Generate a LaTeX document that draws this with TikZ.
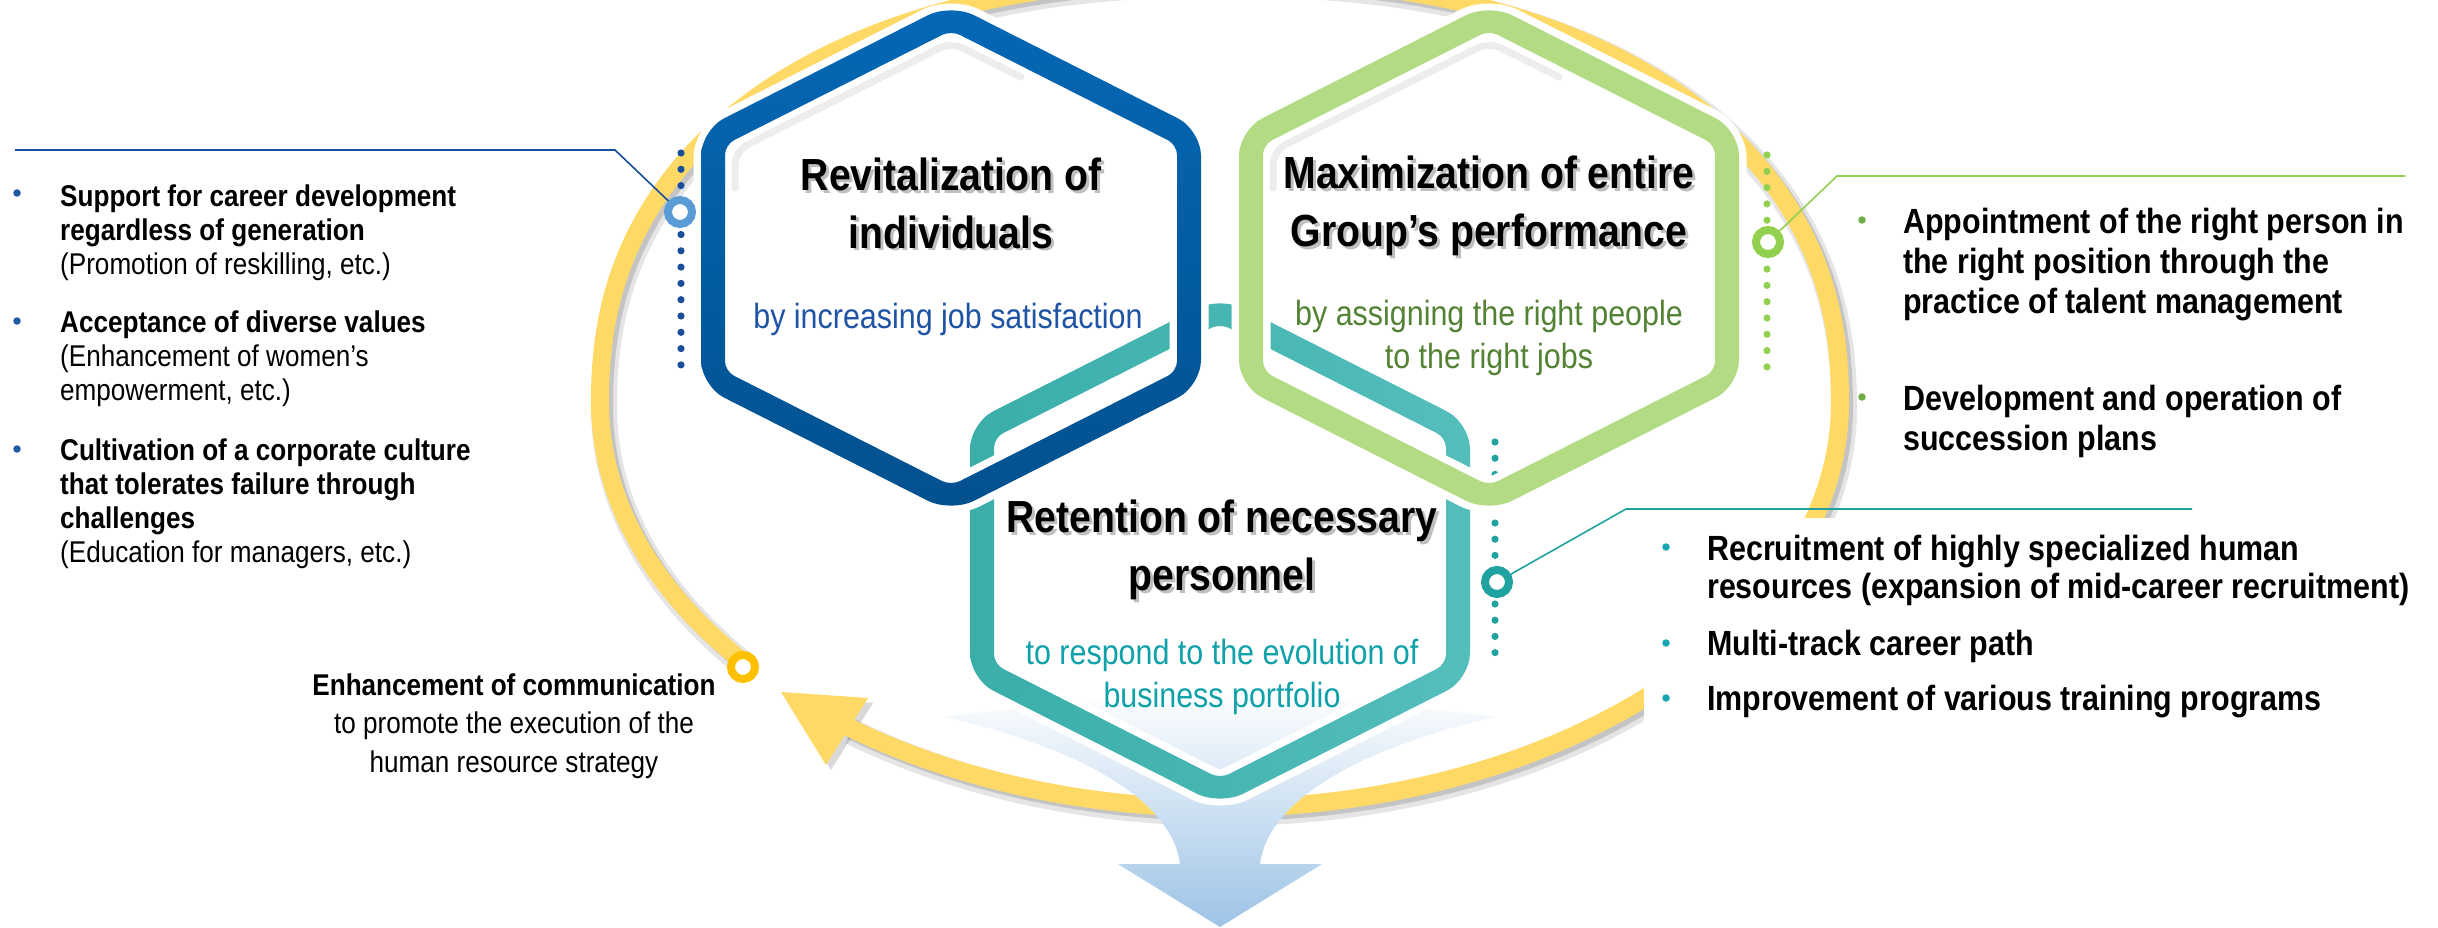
\documentclass[tikz,border=0pt]{standalone}
\usepackage{fontspec}
\setmainfont{Liberation Sans}[FakeStretch=0.87]
\definecolor{blueTop}{RGB}{4,104,182}
\definecolor{blueBot}{RGB}{3,80,142}
\definecolor{blueDot}{RGB}{24,78,154}
\definecolor{blueRing}{RGB}{91,155,213}
\definecolor{blueText}{RGB}{31,84,164}
\definecolor{blueBullet}{RGB}{31,90,166}
\definecolor{greenHex}{RGB}{179,219,131}
\definecolor{greenText}{RGB}{84,130,53}
\definecolor{greenDot}{RGB}{146,208,80}
\definecolor{greenBullet}{RGB}{112,173,71}
\definecolor{tealL}{RGB}{58,174,169}
\definecolor{tealR}{RGB}{84,190,187}
\definecolor{tealDot}{RGB}{32,163,160}
\definecolor{tealText}{RGB}{14,161,170}
\definecolor{tealBullet}{RGB}{23,165,180}
\definecolor{ringYellow}{RGB}{255,217,102}
\definecolor{ringOrange}{RGB}{255,192,0}
\definecolor{arrowBlue}{RGB}{157,195,230}
% hexagon outline offset by #3 from the centre line, centre (#1,#2), corner radius #4
\newcommand\HexPoly[4]{[rounded corners=#4pt] ({#1},{#2-241-1.12*(#3)}) -- ({#1+238+(#3)},{#2-120.6-0.614*(#3)}) -- ({#1+238+(#3)},{#2+120.6+0.614*(#3)}) -- ({#1},{#2+241+1.12*(#3)}) -- ({#1-238-(#3)},{#2+120.6+0.614*(#3)}) -- ({#1-238-(#3)},{#2-120.6-0.614*(#3)}) -- cycle}
% soft inner shade along the upper left inside edge of a hexagon centred at (#1,#2)
\newcommand\HexShine[2]{[rounded corners=14pt] ({#1-216},{#2-70}) -- ({#1-216},{#2-107}) -- ({#1},{#2-216}) -- ({#1+70},{#2-181})}
% the big cycle: ellipse below, flatter super-ellipse above
\newcommand\CycleRing{plot[domain=140:180, samples=30, variable=\t] ({1220+620*cos(\t)},{403+405*sin(\t)})
  -- plot[domain=180:360, samples=240, variable=\t]
  ({1220+620*cos(\t)*pow(abs(cos(\t))+0.00001,-0.111)},{403+424*sin(\t)*pow(abs(sin(\t))+0.00001,-0.111)})
  -- plot[domain=360:487, samples=120, variable=\t] ({1220+620*cos(\t)},{403+405*sin(\t)})}
\begin{document}
\begin{tikzpicture}[x=1pt,y=-1pt,
  ringnode/.style={circle, inner sep=0, minimum size=24pt, line width=8pt, fill=white},
  bul/.style={circle, inner sep=0, minimum size=7.5pt},
  callout/.style={line width=1.6pt},
  hextitle/.style={align=center, inner sep=0, font=\bfseries\fontsize{45}{58}\selectfont},
  titleshade/.style={hextitle, text=black!45, text opacity=.55},
  hexsub/.style={align=center, inner sep=0, font=\fontsize{35}{43}\selectfont},
  smalltext/.style={align=left, inner sep=0, font=\fontsize{30}{34}\selectfont},
  bigtext/.style={align=left, inner sep=0, font=\bfseries\fontsize{35}{40}\selectfont},
  shine/.style={black, opacity=.07, line width=7pt, line cap=round}]
\useasboundingbox (0,0) rectangle (2438,928);
\fill[white] (0,0) rectangle (2438,928);
\clip (0,0) rectangle (2438,928);

% ---- yellow cycle with its arrow head
\draw[black, opacity=.10, line width=26pt, xshift=4pt, yshift=-5pt] \CycleRing;
\draw[black, opacity=.14, line width=18pt, xshift=4pt, yshift=-4pt] \CycleRing;
\fill[black, opacity=.15, xshift=5pt, yshift=-5pt] (781,692) -- (868,698) -- (826,765) -- cycle;
\draw[ringYellow, line width=18pt] \CycleRing;
\coordinate (tipYellow) at (781,692);
\coordinate (barbA) at (868,698);
\coordinate (barbB) at (826,765);
\fill[ringYellow] (tipYellow) -- (barbA) -- (barbB) -- cycle;
\node[ringnode, draw=ringOrange] (commRing) at (743,667) {};

% white ground under the right-hand list
\fill[white] (1644,518) rectangle (2300,735);

% ---- downward arrow below the cycle
\path[top color=white, bottom color=arrowBlue]
  (945,717) .. controls (1080,748) and (1172,800) .. (1180,864) -- (1118,864) -- (1220,927)
  -- (1322,864) -- (1260,864) .. controls (1268,800) and (1360,748) .. (1495,717)
  .. controls (1300,690) and (1140,690) .. (945,717) -- cycle;

% ---- dots of the lower hexagon (partly hidden by the green one)
\foreach \k in {0,...,13} \fill[tealDot] (1495,{442+16.2*\k}) circle (3.6pt);

% ---- lower hexagon
\fill[white, even odd rule] \HexPoly{1220}{551}{19.5}{32} \HexPoly{1220}{551}{-19.5}{4};
\path[left color=tealL, right color=tealR, even odd rule] \HexPoly{1220}{551}{12}{26} \HexPoly{1220}{551}{-12}{10};

% ---- upper left hexagon
\fill[white, even odd rule] \HexPoly{951}{258}{19.5}{32} \HexPoly{951}{258}{-19.5}{4};
\draw[shine] \HexShine{951}{258};
\path[top color=blueTop, bottom color=blueBot, even odd rule] \HexPoly{951}{258}{12}{26} \HexPoly{951}{258}{-12}{10};

% ---- upper right hexagon
\fill[white, even odd rule] \HexPoly{1489}{258}{19.5}{32} \HexPoly{1489}{258}{-19.5}{4};
\draw[shine] \HexShine{1489}{258};
\fill[greenHex, even odd rule] \HexPoly{1489}{258}{12}{26} \HexPoly{1489}{258}{-12}{10};

% ---- dotted columns, rings and callout lines
\foreach \k in {0,...,13} \fill[blueDot] (681,{153+16.3*\k}) circle (3.6pt);
\foreach \k in {0,...,13} \fill[greenDot] (1767,{155+16.3*\k}) circle (3.6pt);

\node[ringnode, draw=blueRing] (blueRingN) at (680,212) {};
\coordinate (blueBend) at (615,150);
\coordinate (blueEnd) at (15,150);
\draw[callout, blueDot] (blueRingN) -- (blueBend) -- (blueEnd);

\node[ringnode, draw=greenDot] (greenRingN) at (1768,242) {};
\coordinate (greenBend) at (1837,176);
\coordinate (greenEnd) at (2405,176);
\draw[callout, greenDot] (greenRingN) -- (greenBend) -- (greenEnd);

\node[ringnode, draw=tealDot] (tealRingN) at (1497,582) {};
\coordinate (tealBend) at (1626,509);
\coordinate (tealEnd) at (2192,509);
\draw[callout, tealDot] (tealRingN) -- (tealBend) -- (tealEnd);

% ---- hexagon titles (anchored on the baseline of their last line)
\node[titleshade, anchor=base] (blueTitleShade) at (954,251) {Revitalization of\\individuals};
\node[hextitle, anchor=base] (blueTitle) at (951,248) {Revitalization of\\individuals};
\node[hexsub, anchor=base, text=blueText] (blueSub) at (948,328) {by increasing job satisfaction};

\node[titleshade, anchor=base] (greenTitleShade) at (1492,249) {Maximization of entire\\Group’s performance};
\node[hextitle, anchor=base] (greenTitle) at (1489,246) {Maximization of entire\\Group’s performance};
\node[hexsub, anchor=base, text=greenText] (greenSub) at (1489,368) {by assigning the right people\\to the right jobs};

\node[titleshade, anchor=base] (tealTitleShade) at (1225,593) {Retention of necessary\\personnel};
\node[hextitle, anchor=base] (tealTitle) at (1222,590) {Retention of necessary\\personnel};
\node[hexsub, anchor=base, text=tealText] (tealSub) at (1222,707) {to respond to the evolution of\\business portfolio};

% ---- left list
\node[bul, fill=blueBullet] (lb1) at (17,193) {};
\node[bul, fill=blueBullet] (lb2) at (17,321) {};
\node[bul, fill=blueBullet] (lb3) at (17,449) {};
\node[smalltext, anchor=base west] (leftA) at (60,274) {\textbf{Support for career development}\\\textbf{regardless of generation}\\(Promotion of reskilling, etc.)};
\node[smalltext, anchor=base west] (leftB) at (60,400) {\textbf{Acceptance of diverse values}\\(Enhancement of women’s\\empowerment, etc.)};
\node[smalltext, anchor=base west] (leftC) at (60,562) {\textbf{Cultivation of a corporate culture}\\\textbf{that tolerates failure through}\\\textbf{challenges}\\(Education for managers, etc.)};

% ---- communication note
\node[align=center, inner sep=0, font=\fontsize{30}{38.5}\selectfont, anchor=base] (commText) at (514,772)
  {\textbf{Enhancement of communication}\\to promote the execution of the\\human resource strategy};

% ---- right lists
\node[bul, fill=greenBullet] (gb1) at (1862,220) {};
\node[bul, fill=greenBullet] (gb2) at (1862,397) {};
\node[bigtext, anchor=base west] (greenA) at (1903,313) {Appointment of the right person in\\the right position through the\\practice of talent management};
\node[bigtext, anchor=base west] (greenB) at (1903,450) {Development and operation of\\succession plans};

\node[bul, fill=tealBullet] (tb1) at (1666,547) {};
\node[bul, fill=tealBullet] (tb2) at (1666,643) {};
\node[bul, fill=tealBullet] (tb3) at (1666,698) {};
\node[bigtext, anchor=base west, font=\bfseries\fontsize{35}{38}\selectfont] (tealA) at (1707,598) {Recruitment of highly specialized human\\resources (expansion of mid-career recruitment)};
\node[bigtext, anchor=base west] (tealB) at (1707,655) {Multi-track career path};
\node[bigtext, anchor=base west] (tealC) at (1707,710) {Improvement of various training programs};
\end{tikzpicture}
\end{document}
